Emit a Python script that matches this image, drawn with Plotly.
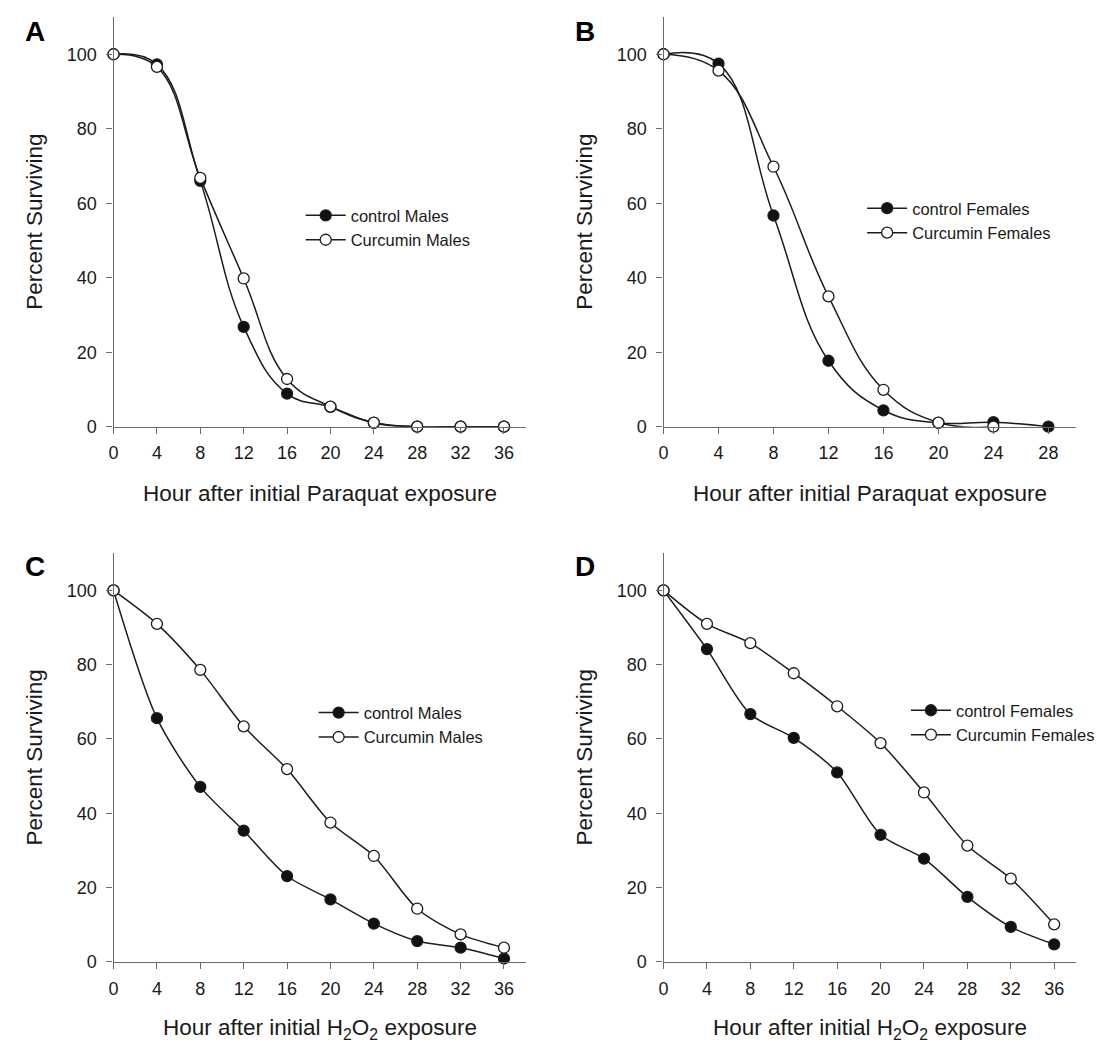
import plotly.graph_objects as go

# ---------------- data ----------------
hours_36 = [0, 4, 8, 12, 16, 20, 24, 28, 32, 36]
hours_28 = [0, 4, 8, 12, 16, 20, 24, 28]
hours_24 = [0, 4, 8, 12, 16, 20, 24]

# A: Paraquat, males
a_control = [100, 97.3, 66.0, 26.8, 8.9, 5.3, 1.0, 0, 0, 0]
a_curcumin = [100, 96.6, 66.8, 39.8, 12.8, 5.4, 1.1, 0, 0, 0]
# B: Paraquat, females
b_control = [100, 97.5, 56.7, 17.7, 4.4, 1.0, 1.2, 0]
b_curcumin = [100, 95.6, 69.8, 35.0, 9.9, 1.1, 0]
# C: H2O2, males
c_control = [100, 65.6, 47.1, 35.3, 23.1, 16.8, 10.3, 5.6, 3.8, 0.9]
c_curcumin = [100, 91.0, 78.6, 63.4, 51.9, 37.5, 28.5, 14.3, 7.4, 3.8]
# D: H2O2, females
d_control = [100, 84.2, 66.7, 60.3, 51.0, 34.2, 27.8, 17.5, 9.4, 4.7]
d_curcumin = [100, 91.0, 85.8, 77.7, 68.8, 58.9, 45.6, 31.3, 22.4, 10.1]

y_ticks = [0, 20, 40, 60, 80, 100]
x_ticks_36 = [0, 4, 8, 12, 16, 20, 24, 28, 32, 36]
x_ticks_28 = [0, 4, 8, 12, 16, 20, 24, 28]

panel_letters = ["A", "B", "C", "D"]
x_titles = [
    "Hour after initial Paraquat exposure",
    "Hour after initial Paraquat exposure",
    "Hour after initial H<sub>2</sub>O<sub>2</sub> exposure",
    "Hour after initial H<sub>2</sub>O<sub>2</sub> exposure",
]
y_title = "Percent Surviving"
legend_names = [
    ("control Males", "Curcumin Males"),
    ("control Females", "Curcumin Females"),
    ("control Males", "Curcumin Males"),
    ("control Females", "Curcumin Females"),
]

# ---------------- layout geometry ----------------
W, H = 1104, 1050
FONT = "Liberation Sans, Arial, Helvetica, sans-serif"
LINE = "#1c1c1c"
AXC = "#6a6a6a"
TXT = "#1a1a1a"

def px_x(v):
    return v / W

def px_y(v):
    return 1 - v / H

left_dom = [px_x(101), px_x(515)]
right_dom = [px_x(653.5), px_x(1067.7)]
top_dom = [px_y(422.7), px_y(9.1)]
bot_dom = [px_y(963.0), px_y(550.5)]

panels = [
    dict(xd=left_dom, yd=top_dom, xr=[0, 38], xt=x_ticks_36,
         data=[(hours_36, a_control), (hours_36, a_curcumin)], smooth=1.2,
         leg=(289, 221.7)),
    dict(xd=right_dom, yd=top_dom, xr=[0, 30], xt=x_ticks_28,
         data=[(hours_28, b_control), (hours_24, b_curcumin)], smooth=1.2,
         leg=(853, 214.5)),
    dict(xd=left_dom, yd=bot_dom, xr=[0, 38], xt=x_ticks_36,
         data=[(hours_36, c_control), (hours_36, c_curcumin)], smooth=0.8,
         leg=(302, 723.7)),
    dict(xd=right_dom, yd=bot_dom, xr=[0, 38], xt=x_ticks_36,
         data=[(hours_36, d_control), (hours_36, d_curcumin)], smooth=0.8,
         leg=(897, 721.4)),
]

fig = go.Figure()
layout = dict(
    width=W, height=H,
    margin=dict(l=0, r=0, t=0, b=0),
    paper_bgcolor="white", plot_bgcolor="white",
    font=dict(family=FONT, color=TXT),
    showlegend=True,
)
annotations = []

for i, p in enumerate(panels):
    n = i + 1
    xa = "x" if n == 1 else f"x{n}"
    ya = "y" if n == 1 else f"y{n}"
    leg = "legend" if n == 1 else f"legend{n}"
    names = legend_names[i]
    fills = ["#111111", "white"]
    for k, (xs, ys) in enumerate(p["data"]):
        fig.add_trace(go.Scatter(
            x=xs, y=ys, mode="lines+markers", name=names[k],
            xaxis=xa, yaxis=ya, legend=leg,
            line=dict(color=LINE, width=1.5, shape="spline", smoothing=p["smooth"]),
            marker=dict(symbol="circle", size=11, color=fills[k],
                        line=dict(color=LINE, width=1.3)),
            cliponaxis=False,
        ))
    axis_common = dict(
        showline=True, linecolor=AXC, linewidth=1.3,
        ticks="outside", ticklen=6, tickwidth=1.2, tickcolor=AXC,
        showgrid=False, zeroline=False,
        tickfont=dict(family=FONT, size=18, color=TXT),
    )
    layout[f"xaxis{'' if n == 1 else n}"] = dict(
        domain=p["xd"], range=p["xr"], tickmode="array", tickvals=p["xt"],
        anchor=ya, ticklabelstandoff=4, **axis_common)
    layout[f"yaxis{'' if n == 1 else n}"] = dict(
        domain=p["yd"], range=[0, 110], tickmode="array", tickvals=y_ticks,
        anchor=xa, ticklabelstandoff=6, **axis_common)
    lx, ly = p["leg"]
    layout[leg] = dict(
        x=px_x(lx), y=px_y(ly), xanchor="left", yanchor="middle",
        bgcolor="rgba(0,0,0,0)", borderwidth=0,
        font=dict(family=FONT, size=16.5, color=TXT),
        itemwidth=40, tracegroupgap=0,
    )
    # axis titles and panel letter
    xd, yd = p["xd"], p["yd"]
    xc = (xd[0] + xd[1]) / 2
    yc = (yd[0] + yd[1]) / 2
    title_y = px_y(490) if i < 2 else px_y(1030.5)
    annotations.append(dict(
        text=x_titles[i], x=xc, y=title_y, xref="paper", yref="paper",
        xanchor="center", yanchor="middle", showarrow=False,
        font=dict(family=FONT, size=22.5, color=TXT)))
    annotations.append(dict(
        text=y_title, x=xd[0] - px_x(79), y=yc, xref="paper", yref="paper",
        xanchor="center", yanchor="middle", showarrow=False, textangle=-90,
        font=dict(family=FONT, size=22.5, color=TXT)))
    letter_y = px_y(23.3) if i < 2 else px_y(563.5)
    annotations.append(dict(
        text=f"<b>{panel_letters[i]}</b>", x=xd[0] - px_x(78.5), y=letter_y,
        xref="paper", yref="paper", xanchor="center", yanchor="middle",
        showarrow=False, font=dict(family=FONT, size=28, color="#000000")))

layout["annotations"] = annotations
fig.update_layout(**layout)
fig.write_html("out.html")
